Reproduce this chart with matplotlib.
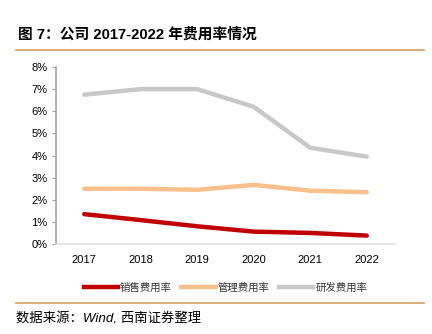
import matplotlib
matplotlib.use('Agg')
import matplotlib.pyplot as plt
from matplotlib.lines import Line2D

plt.rcParams['font.family'] = ['Liberation Sans', 'Noto Sans CJK SC', 'DejaVu Sans']

years = ['2017', '2018', '2019', '2020', '2021', '2022']
sales_rate = [1.35, 1.08, 0.80, 0.56, 0.50, 0.38]
admin_rate = [2.50, 2.50, 2.45, 2.67, 2.41, 2.34]
rd_rate = [6.75, 7.00, 7.00, 6.20, 4.35, 3.95]
series_names = ['销售费用率', '管理费用率', '研发费用率']
colors = ['#C00000', '#F8C08C', '#C8C8C8']

fig = plt.figure(figsize=(4.32, 3.34), dpi=100)
W, H = 432, 334
ax = fig.add_axes([56 / W, 1 - 244 / H, (395 - 56) / W, (244 - 67) / H])

x = range(len(years))
for vals, c in zip([sales_rate, admin_rate, rd_rate], colors):
    ax.plot(x, vals, color=c, lw=3.2, solid_capstyle='round')

ax.set_xlim(-0.5, len(years) - 0.5)
ax.set_ylim(0, 8)
ax.set_yticks(range(0, 9))
ax.set_yticklabels([f'{v}%' for v in range(0, 9)])
ax.set_xticks(list(x))
ax.set_xticklabels(years)
ax.tick_params(axis='y', labelsize=8, length=3, color='#A0A0A0', pad=3)
ax.tick_params(axis='x', labelsize=8, length=0, pad=8)
for s in ['top', 'right']:
    ax.spines[s].set_visible(False)
ax.spines['left'].set_color('#A6A6A6')
ax.spines['left'].set_linewidth(1.2)
ax.spines['bottom'].set_color('#E0E0E0')
ax.spines['bottom'].set_linewidth(1.2)

handles = [Line2D([0], [0], color=c, lw=3.2) for c in colors]
fig.legend(handles, series_names, loc='center', bbox_to_anchor=(0.522, 1 - 288 / H),
           ncol=3, frameon=False, handlelength=3.3, handletextpad=0.2,
           columnspacing=0.9, prop={'family': 'Noto Sans CJK SC', 'size': 7.5},
           labelcolor='#333333')

fig.text(18 / W, 1 - 35 / H, '图 7：公司 2017-2022 年费用率情况', fontsize=10.6, fontweight='bold',
         va='center', ha='left', family=['Liberation Sans', 'Noto Sans CJK SC'])
fig.add_artist(Line2D([16 / W, 424 / W], [1 - 49.5 / H] * 2, color='#D4A060', lw=1.2))
fig.add_artist(Line2D([16 / W, 424 / W], [1 - 302.5 / H] * 2, color='#D4A060', lw=1.2))
fig.text(16 / W, 1 - 319 / H, '数据来源：Wind, 西南证券整理', fontsize=9.6, style='italic',
         va='center', ha='left', family=['Liberation Sans', 'Noto Sans CJK SC'])

fig.savefig('out.png', dpi=100)
